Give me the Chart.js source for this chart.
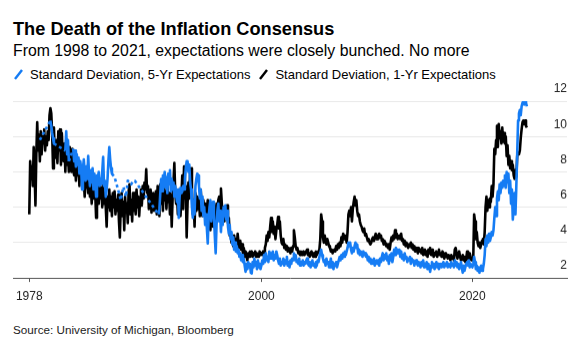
<!DOCTYPE html>
<html>
<head>
<meta charset="utf-8">
<script src="https://cdn.jsdelivr.net/npm/chart.js@4.4.1/dist/chart.umd.min.js"></script>
<style>
  html, body { margin: 0; padding: 0; background: #fff; }
  body { width: 577px; height: 350px; position: relative; overflow: hidden;
         font-family: "Liberation Sans", Arial, sans-serif; color: #000; }
  .title { position: absolute; left: 13px; top: 20px; font-size: 18.2px; line-height: 18px; font-weight: bold; white-space: nowrap; }
  .sub { position: absolute; left: 13px; top: 43px; font-size: 15.8px; line-height: 16px; white-space: nowrap; }
  .legend { position: absolute; left: 14px; top: 67.5px; font-size: 13px; line-height: 13px; display: flex; align-items: center; white-space: nowrap; }
  .legend .item { display: flex; align-items: center; margin-right: 9px; }
  .legend svg { margin-right: 7px; }
  .source { position: absolute; left: 13px; top: 324px; font-size: 11.7px; line-height: 12px; color: #222; white-space: nowrap; }
  .chart-box { position: absolute; left: 0; top: 78px; width: 577px; height: 234.5px; }
</style>
</head>
<body>
<div class="title">The Death of the Inflation Consensus</div>
<div class="sub">From 1998 to 2021, expectations were closely bunched. No more</div>
<div class="legend">
  <div class="item"><svg width="9" height="11"><line x1="1" y1="10" x2="8" y2="1" stroke="#157cf4" stroke-width="2.4"/></svg>Standard Deviation, 5-Yr Expectations</div>
  <div class="item"><svg width="9" height="11"><line x1="1" y1="10" x2="8" y2="1" stroke="#000" stroke-width="2.4"/></svg>Standard Deviation, 1-Yr Expectations</div>
</div>
<div class="chart-box"><canvas id="chart"></canvas></div>
<div class="source">Source: University of Michigan, Bloomberg</div>

<script>
// monthly, Jan 1978 .. Mar 2025
const START_YEAR = 1978;
const X_TICKS = [1978, 2000, 2020];
const Y_TICKS = [2, 4, 6, 8, 10, 12];
const BLUE = '#157cf4';

// Standard deviation, 1-yr expectations
const oneYr = [
  5.6, 8.6, 7.6, 8.3, 7.2, 9.4, 8.0, 6.1, 9.0, 10.8, 9.2, 10.1,   // 1978
  8.6, 10.3, 9.0, 10.0, 9.6, 10.4, 9.2, 10.0, 9.5, 10.3, 9.8, 11.2,
  11.6, 11.3, 10.2, 8.2, 10.5, 9.0, 8.8, 9.8, 8.5, 10.3, 9.2, 10.4, // 1980
  8.4, 10.2, 9.0, 8.6, 9.6, 8.0, 9.8, 8.4, 9.0, 8.0, 9.4, 8.6,
  8.0, 9.3, 8.2, 7.8, 8.8, 7.5, 8.4, 7.8, 8.6, 7.2, 8.0, 7.6,
  8.0, 7.0, 7.6, 6.6, 7.8, 7.1, 7.6, 6.8, 7.4, 6.6, 7.2, 6.2,
  7.5, 6.5, 7.2, 6.8, 5.4, 6.9, 7.0, 6.2, 7.6, 6.5, 7.1, 6.0,
  7.4, 6.2, 6.8, 6.0, 4.9, 6.6, 6.0, 7.0, 5.8, 6.6, 5.5, 6.8,     // 1985
  6.0, 6.9, 5.6, 6.4, 5.8, 6.7, 5.2, 4.3, 6.0, 6.8, 5.5, 6.3,
  4.7, 6.6, 5.7, 6.2, 5.1, 6.9, 7.3, 5.6, 6.4, 5.2, 6.8, 5.8,
  6.8, 5.6, 7.0, 6.0, 6.6, 5.5, 6.4, 7.0, 6.1, 7.2, 6.5, 7.4,
  7.0, 8.15, 6.8, 7.2, 5.9, 6.6, 7.0, 5.7, 6.5, 6.8, 5.8, 6.4,
  6.9, 5.6, 7.2, 6.5, 5.5, 7.3, 6.2, 7.0, 5.8, 7.5, 6.4, 6.9,     // 1990
  5.9, 7.2, 6.3, 6.8, 5.6, 6.7, 4.9, 6.5, 7.4, 8.5, 6.8, 6.2,
  6.8, 5.6, 7.0, 6.0, 5.5, 6.6, 7.8, 5.9, 8.3, 6.5, 7.2, 4.3,
  6.2, 7.4, 6.5, 8.0, 8.2, 7.0, 5.6, 6.4, 4.9, 6.8, 5.8, 6.6,
  5.9, 6.5, 5.5, 7.0, 6.1, 5.5, 6.4, 5.6, 6.2, 5.2, 5.8, 6.4,
  5.0, 6.2, 4.7, 5.6, 5.9, 4.9, 6.1, 5.3, 5.7, 6.2, 5.4, 6.4,     // 1995
  6.6, 5.8, 7.05, 6.2, 5.5, 6.0, 5.2, 5.8, 5.6, 6.1, 5.1, 5.4,
  4.4, 4.5, 4.0, 4.3, 3.8, 4.4, 3.9, 4.2, 3.8, 4.5, 4.0, 3.7,
  4.1, 3.6, 3.9, 3.4, 3.7, 3.2, 3.5, 3.3, 3.0, 3.4, 3.2, 3.5,
  3.3, 3.5, 3.2, 3.4, 3.3, 3.5, 3.2, 3.4, 3.3, 3.2, 3.5, 3.3,
  3.4, 3.3, 3.5, 3.4, 3.7, 3.9, 4.4, 4.1, 4.6, 4.3, 4.9, 5.4,     // 2000
  4.6, 5.2, 4.5, 4.9, 4.2, 4.7, 5.0, 5.45, 4.8, 5.2, 4.4, 4.0,
  3.9, 4.2, 3.7, 3.9, 3.6, 3.8, 3.5, 3.7, 3.6, 3.4, 3.7, 3.5,
  3.8, 4.7, 4.3, 3.8, 3.6, 3.7, 3.4, 3.5, 3.3, 3.5, 3.4, 3.3,
  3.5, 3.3, 3.4, 3.5, 3.6, 3.3, 3.4, 3.2, 3.4, 3.5, 3.3, 3.2,
  3.4, 3.2, 3.5, 3.3, 3.4, 3.5, 3.6, 4.2, 5.6, 5.2, 4.3, 4.0,     // 2005
  4.4, 4.1, 3.9, 4.2, 4.0, 3.8, 3.7, 3.5, 3.6, 3.4, 3.5, 3.6,
  3.5, 3.8, 3.6, 3.9, 3.7, 4.0, 3.8, 4.3, 4.0, 4.5, 4.2, 4.4,
  4.3, 4.0, 4.6, 5.6, 5.8, 5.5, 6.0, 5.2, 5.9, 6.3, 6.6, 6.1,
  6.4, 5.8, 5.5, 5.6, 5.2, 5.0, 4.9, 4.7, 4.6, 4.8, 4.4, 4.5,
  4.3, 4.1, 4.2, 4.0, 3.9, 4.0, 4.2, 4.3, 4.1, 4.3, 4.5, 4.2,     // 2010
  4.4, 4.2, 4.5, 4.3, 4.4, 4.1, 4.2, 3.9, 4.1, 4.0, 3.8, 3.9,
  3.7, 3.9, 3.6, 4.0, 4.3, 4.1, 4.4, 4.2, 4.7, 4.3, 4.5, 4.2,
  4.3, 4.4, 4.2, 4.5, 4.1, 4.2, 3.9, 4.1, 3.8, 4.0, 3.9, 3.7,
  3.9, 3.8, 4.0, 3.7, 3.9, 3.6, 3.8, 3.5, 3.7, 3.6, 3.4, 3.7,
  3.5, 3.6, 3.4, 3.7, 3.3, 3.5, 3.6, 3.3, 3.5, 3.2, 3.6, 3.4,     // 2015
  3.7, 3.3, 3.5, 3.6, 3.2, 3.4, 3.3, 3.5, 3.2, 3.4, 3.6, 3.3,
  3.4, 3.2, 3.5, 3.3, 3.1, 3.4, 3.2, 3.3, 3.1, 3.3, 3.2, 3.0,
  3.3, 3.1, 3.2, 3.0, 3.6, 3.7, 3.4, 3.1, 3.3, 3.5, 3.2, 3.0,
  3.1, 3.3, 3.0, 3.2, 2.9, 3.1, 3.5, 3.3, 3.0, 3.4, 3.2, 3.0,
  3.0, 3.1, 5.6, 5.2, 4.2, 4.6, 4.0, 3.8, 4.0, 3.7, 3.9, 4.1,     // 2020
  4.2, 3.9, 4.6, 6.0, 6.6, 5.8, 6.4, 6.0, 6.5, 6.3, 7.2, 6.6,
  7.3, 9.3, 9.0, 9.8, 10.6, 9.4, 10.7, 9.9, 10.3, 9.6, 10.5, 9.7,
  10.2, 9.6, 10.0, 8.9, 9.5, 8.4, 8.9, 8.2, 8.6, 8.1, 8.4, 7.8,
  7.6, 8.1, 7.7, 8.9, 9.1, 9.0, 9.2, 9.9, 10.4, 10.8, 10.9, 10.7,
  10.9, 10.6, 10.5                                                  // 2025
];

// Standard deviation, 5-yr expectations (survey irregular before 1990)
const fiveYr = [
  null, null, null, null, null, null, null, null, null, null, null, null, // 1978
  9.8, null, null, null, null, null, null, null, null, null, null, null,
  10.9, 10.6, 10.2, 9.9, 9.6, null, null, null, null, null, null, null,   // 1980
  null, null, null, null, null, 9.2, 10.3, 9.0, 9.8, 8.6, null, null,
  null, null, 9.3, 8.6, 9.2, 8.3, 9.0, 8.4, 8.8, 7.9, 8.6, 8.2,
  7.0, 8.2, 8.7, 8.0, 7.5, 8.3, 7.6, 8.9, 7.8, 7.2, 8.1, 7.4,
  8.2, 7.0, 7.9, 7.5, 6.6, 7.8, 7.6, 8.0, 7.2, 7.6, 7.3, 8.0,
  8.85, 7.2, 7.5, 6.6, 7.0, 7.6, 8.6, 9.4, 8.7, 8.2, 7.9, null,          // 1985
  null, 7.7, null, null, null, 7.0, null, null, 6.4, null, null, 7.15,
  null, null, 6.6, null, 7.5, null, null, null, 7.3, null, 7.5, null,
  7.5, null, null, null, null, null, null, null, null, null, null, null,
  null, null, null, null, null, null, null, null, null, null, null, null,
  null, null, null, 5.6, 5.9, 6.8, 7.6, 6.9, 7.8, 7.2, 8.0, 7.1,         // 1990
  7.7, 6.8, 7.9, 7.3, 8.1, 6.9, 7.6, 7.0, 7.4, 6.6, 7.2, 6.8,
  6.3, 7.0, 5.4, 6.6, 7.1, 6.8, 6.9, 7.2, 7.0, 7.6, 8.2, 8.6,
  8.6, 8.0, 8.4, 7.4, 7.0, 6.0, 5.4, 6.4, 5.6, 7.2, 7.6, 7.9,
  7.8, 7.2, 6.5, 7.0, 5.8, 6.6, 5.5, 6.0, 5.0, 5.6, 4.8, 3.95,
  5.4, 6.0, 6.4, 5.2, 5.9, 6.3, 5.6, 4.4, 3.4, 5.0, 5.8, 6.2,            // 1995
  5.2, 5.8, 4.6, 5.6, 5.0, 6.0, 5.5, 6.1, 5.3, 5.8, 4.9, 4.5,
  5.0, 4.2, 4.6, 3.9, 4.3, 3.6, 4.0, 3.5, 3.8, 3.4, 3.6, 3.2,
  3.4, 3.0, 3.3, 2.9, 3.1, 2.7, 2.35, 2.8, 2.5, 2.9, 2.6, 2.8,
  2.3, 2.25, 2.9, 2.6, 3.1, 2.7, 2.9, 2.5, 3.0, 2.6, 2.8, 2.5,
  2.7, 3.0, 2.8, 3.3, 2.9, 3.4, 3.0, 3.2, 2.9, 3.5, 3.1, 3.4,            // 2000
  3.1, 3.5, 3.0, 3.3, 3.1, 3.5, 3.3, 3.0, 2.8, 3.1, 2.7, 2.9,
  2.8, 3.1, 2.7, 3.0, 2.8, 3.2, 2.7, 2.9, 2.6, 3.0, 2.8, 3.1,
  3.0, 3.4, 3.1, 3.3, 2.9, 3.0, 2.8, 3.1, 2.7, 2.9, 2.8, 3.0,
  2.7, 2.9, 2.8, 3.0, 3.1, 2.8, 2.7, 2.9, 2.6, 2.8, 3.0, 2.7,
  2.8, 2.6, 2.9, 2.7, 3.0, 2.9, 3.2, 3.4, 3.6, 3.3, 3.1, 2.9,            // 2005
  3.0, 2.7, 3.1, 2.8, 2.9, 2.6, 2.8, 3.1, 2.6, 2.9, 2.5, 2.8,
  2.7, 2.9, 2.6, 2.8, 3.0, 3.2, 3.0, 3.3, 3.1, 3.4, 3.2, 3.5,
  3.3, 3.5, 3.7, 4.0, 3.8, 4.0, 3.6, 3.4, 3.7, 3.5, 3.8, 4.0,
  3.7, 3.9, 3.4, 3.6, 3.3, 3.5, 3.4, 3.2, 3.5, 3.3, 3.4, 3.2,
  3.3, 3.0, 3.2, 2.9, 3.1, 2.8, 3.0, 2.8, 3.1, 2.7, 2.9, 3.0,            // 2010
  2.8, 3.0, 2.7, 3.1, 2.9, 3.2, 3.4, 3.0, 3.3, 3.1, 3.4, 3.0,
  3.2, 2.8, 3.3, 3.0, 3.4, 2.9, 3.2, 3.6, 3.3, 3.7, 3.4, 3.6,
  3.4, 3.6, 3.2, 3.5, 3.1, 3.3, 3.0, 3.4, 3.1, 3.2, 2.9, 3.1,
  3.0, 3.2, 2.8, 3.1, 2.9, 3.0, 2.7, 2.9, 3.0, 2.8, 2.7, 2.9,
  2.8, 2.6, 2.9, 2.7, 3.0, 2.6, 2.8, 2.7, 2.9, 2.5, 2.8, 2.6,            // 2015
  2.35, 2.7, 2.9, 2.6, 2.8, 2.5, 2.7, 2.9, 2.6, 2.8, 2.5, 2.7,
  2.8, 2.6, 2.7, 2.9, 2.6, 2.8, 2.7, 2.9, 2.6, 2.8, 2.7, 2.6,
  2.9, 2.7, 2.8, 2.6, 3.0, 2.7, 2.9, 2.6, 2.8, 2.5, 2.7, 2.9,
  2.6, 2.3, 2.7, 2.4, 2.6, 2.8, 2.9, 2.7, 3.0, 2.6, 2.8, 2.7,
  2.6, 2.8, 3.2, 2.9, 2.5, 2.7, 2.4, 2.6, 2.3, 2.5, 2.7, 2.4,            // 2020
  2.5, 2.8, 3.3, 4.2, 3.8, 4.4, 4.0, 4.5, 4.1, 4.3, 4.6, 4.4,
  4.7, 5.4, 6.0, 5.5, 6.5, 6.9, 6.4, 7.3, 6.8, 7.4, 7.1, 7.5,
  7.2, 7.8, 7.1, 8.0, 7.4, 7.9, 6.8, 7.5, 6.2, 7.0, 5.3, 6.0,
  6.8, 5.6, 7.2, 9.0, 10.9, 11.3, 11.5, 11.2, 11.7, 11.9, 12.0, 11.8,
  12.0, 11.9, 11.7                                                        // 2025
];

// x position of each month as a decimal year
const months = oneYr.map((_, i) => START_YEAR + i / 12);

const gapDash = ctx => (ctx.p0.skip || ctx.p1.skip) ? [3, 3] : undefined;

const ctx = document.getElementById('chart').getContext('2d');
const chart = new Chart(ctx, {
    type: 'line',
    data: {
        labels: months,
        datasets: [
            {
                label: 'Standard Deviation, 5-Yr Expectations',
                data: fiveYr,
                borderColor: BLUE,
                borderWidth: 2.6,
                borderJoinStyle: 'round',
                pointRadius: 0,
                tension: 0,
                spanGaps: true,
                segment: { borderDash: gapDash }
            },
            {
                label: 'Standard Deviation, 1-Yr Expectations',
                data: oneYr,
                borderColor: '#000',
                borderWidth: 2.6,
                borderJoinStyle: 'round',
                pointRadius: 0,
                tension: 0
            }
        ]
    },
    options: {
        responsive: true,
        maintainAspectRatio: false,
        animation: false,
        layout: { padding: { left: 13, right: 10, top: 23, bottom: 2 } },
        plugins: {
            legend: { display: false },
            tooltip: { enabled: false }
        },
        scales: {
            x: {
                type: 'linear',
                min: 1976.455,
                max: 2028.97,
                afterBuildTicks: axis => { axis.ticks = X_TICKS.map(v => ({ value: v })); },
                grid: { drawOnChartArea: false, drawTicks: true, tickLength: 4, color: '#555' },
                border: { display: true, color: '#555', width: 1 },
                ticks: {
                    autoSkip: false, maxRotation: 0, padding: 7.5,
                    color: '#222', font: { family: '"Liberation Sans", Arial, sans-serif', size: 12 },
                    callback: v => String(v)
                }
            },
            y: {
                position: 'right',
                min: 2,
                max: 12,
                afterBuildTicks: axis => { axis.ticks = Y_TICKS.map(v => ({ value: v })); },
                grid: {
                    drawTicks: false,
                    color: c => c.tick && c.tick.value === 2 ? 'rgba(0,0,0,0)' : '#e8e8e8',
                    lineWidth: 1
                },
                border: { display: false },
                ticks: {
                    mirror: true, padding: 0, labelOffset: -12,
                    color: '#222', font: { family: '"Liberation Sans", Arial, sans-serif', size: 12 }
                }
            }
        }
    }
});
</script>
</body>
</html>
